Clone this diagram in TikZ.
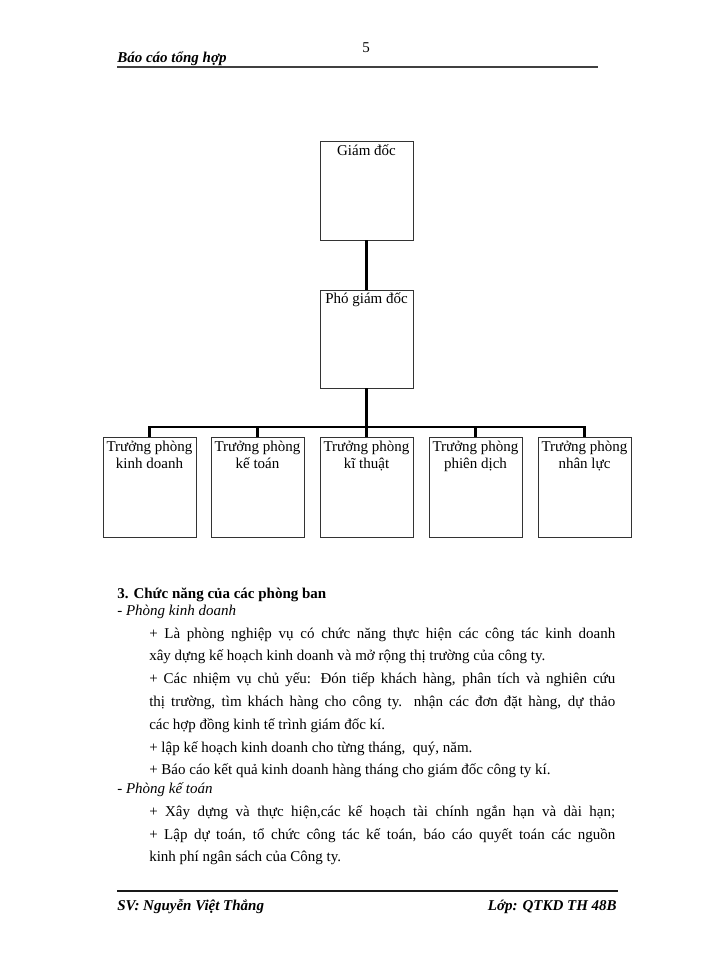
\documentclass[tikz,border=0pt]{standalone}
\usepackage{fontspec}
\setmainfont{Liberation Serif}
\begin{document}
\begin{tikzpicture}[x=0.75pt,y=-0.75pt,
  box/.style={draw=black!80,line width=0.6pt,minimum width=69.75pt,minimum height=75pt,inner sep=0pt},
  boxtext/.style={anchor=north,align=center,inner sep=0pt,font=\fontsize{11.25}{12.75}\selectfont},
  conn/.style={line width=2.2pt,black},
  txt/.style={anchor=base west,inner sep=0pt,font=\fontsize{11.25}{17}\selectfont},
  rule/.style={line width=1.3pt,black!75}]
\useasboundingbox (0,0) rectangle (700,960);
% header
\node[anchor=base,inner sep=0pt,font=\fontsize{11.25}{13}\selectfont] (pg) at (366,52) {5};
\node[txt,font=\fontsize{11.25}{13}\selectfont\bfseries\itshape] (hd) at (117,62) {Báo cáo tổng hợp};
\coordinate (hl) at (117,67);
\coordinate (hr) at (598,67);
\draw[rule] (hl) -- (hr);
% org chart
\node[box,minimum height=74.25pt] (gd) at (366.5,190.5) {};
\node[boxtext] (gdt) at ([yshift=-2.5pt]gd.north) {Giám đốc};
\node[box,minimum height=73.5pt] (pgd) at (366.5,339) {};
\node[boxtext] (pgdt) at ([yshift=-2pt]pgd.north) {Phó giám đốc};
\node[box] (b1) at (149.5,487) {};
\node[box] (b2) at (257.5,487) {};
\node[box] (b3) at (366.5,487) {};
\node[box] (b4) at (475.5,487) {};
\node[box] (b5) at (584.5,487) {};
\node[boxtext] (t1) at ([yshift=-3.5pt]b1.north) {Trưởng phòng\\kinh doanh};
\node[boxtext] (t2) at ([yshift=-3.5pt]b2.north) {Trưởng phòng\\kế toán};
\node[boxtext] (t3) at ([yshift=-3.5pt]b3.north) {Trưởng phòng\\kĩ thuật};
\node[boxtext] (t4) at ([yshift=-3.5pt]b4.north) {Trưởng phòng\\phiên dịch};
\node[boxtext] (t5) at ([yshift=-3.5pt]b5.north) {Trưởng phòng\\nhân lực};
\coordinate (bar) at (366.5,427);
\draw[conn] (gd.south) -- (pgd.north);
\draw[conn] (pgd.south) -- (bar);
\draw[conn] (b1.north) -- (b1.north |- bar) -- (b5.north |- bar) -- (b5.north);
\draw[conn] (b2.north) -- (b2.north |- bar);
\draw[conn] (b3.north) -- (bar);
\draw[conn] (b4.north) -- (b4.north |- bar);
% text
\node[txt,font=\fontsize{11.25}{17}\selectfont\bfseries] (s3) at (117,598) {3. Chức năng của các phòng ban};
\node[txt,font=\fontsize{11.25}{17}\selectfont\itshape] (pk) at (117,615) {- Phòng kinh doanh};
\node[txt] (l1) at (149,638) {\makebox[349.5pt][s]{+ Là phòng nghiệp vụ có chức năng thực hiện các công tác kinh doanh}};
\node[txt] (l2) at (149,660) {xây dựng kế hoạch kinh doanh và mở rộng thị trường của công ty.};
\node[txt] (l3) at (149,683) {\makebox[349.5pt][s]{+ Các nhiệm vụ chủ yếu: Đón tiếp khách hàng, phân tích và nghiên cứu}};
\node[txt] (l4) at (149,706) {\makebox[349.5pt][s]{thị trường, tìm khách hàng cho công ty. nhận các đơn đặt hàng, dự thảo}};
\node[txt] (l5) at (149,729) {các hợp đồng kinh tế trình giám đốc kí.};
\node[txt] (l6) at (149,752) {+ lập kế hoạch kinh doanh cho từng tháng,\ \ quý, năm.};
\node[txt] (l7) at (149,774) {+ Báo cáo kết quả kinh doanh hàng tháng cho giám đốc công ty kí.};
\node[txt,font=\fontsize{11.25}{17}\selectfont\itshape] (pkt) at (117,793) {- Phòng kế toán};
\node[txt] (l8) at (149,816) {\makebox[349.5pt][s]{+ Xây dựng và thực hiện,các kế hoạch tài chính ngắn hạn và dài hạn;}};
\node[txt] (l9) at (149,839) {\makebox[349.5pt][s]{+ Lập dự toán, tổ chức công tác kế toán, báo cáo quyết toán các nguồn}};
\node[txt] (l10) at (149,861) {kinh phí ngân sách của Công ty.};
% footer
\coordinate (fl) at (117,891);
\coordinate (fr) at (618,891);
\draw[rule,black!90] (fl) -- (fr);
\node[txt,font=\fontsize{11.25}{13}\selectfont\bfseries\itshape] (sv) at (117,910) {SV: Nguyễn Việt Thắng};
\node[anchor=base east,inner sep=0pt,font=\fontsize{11.25}{13}\selectfont\bfseries\itshape] (lop) at (617,910) {Lớp: QTKD TH 48B};
\end{tikzpicture}
\end{document}
